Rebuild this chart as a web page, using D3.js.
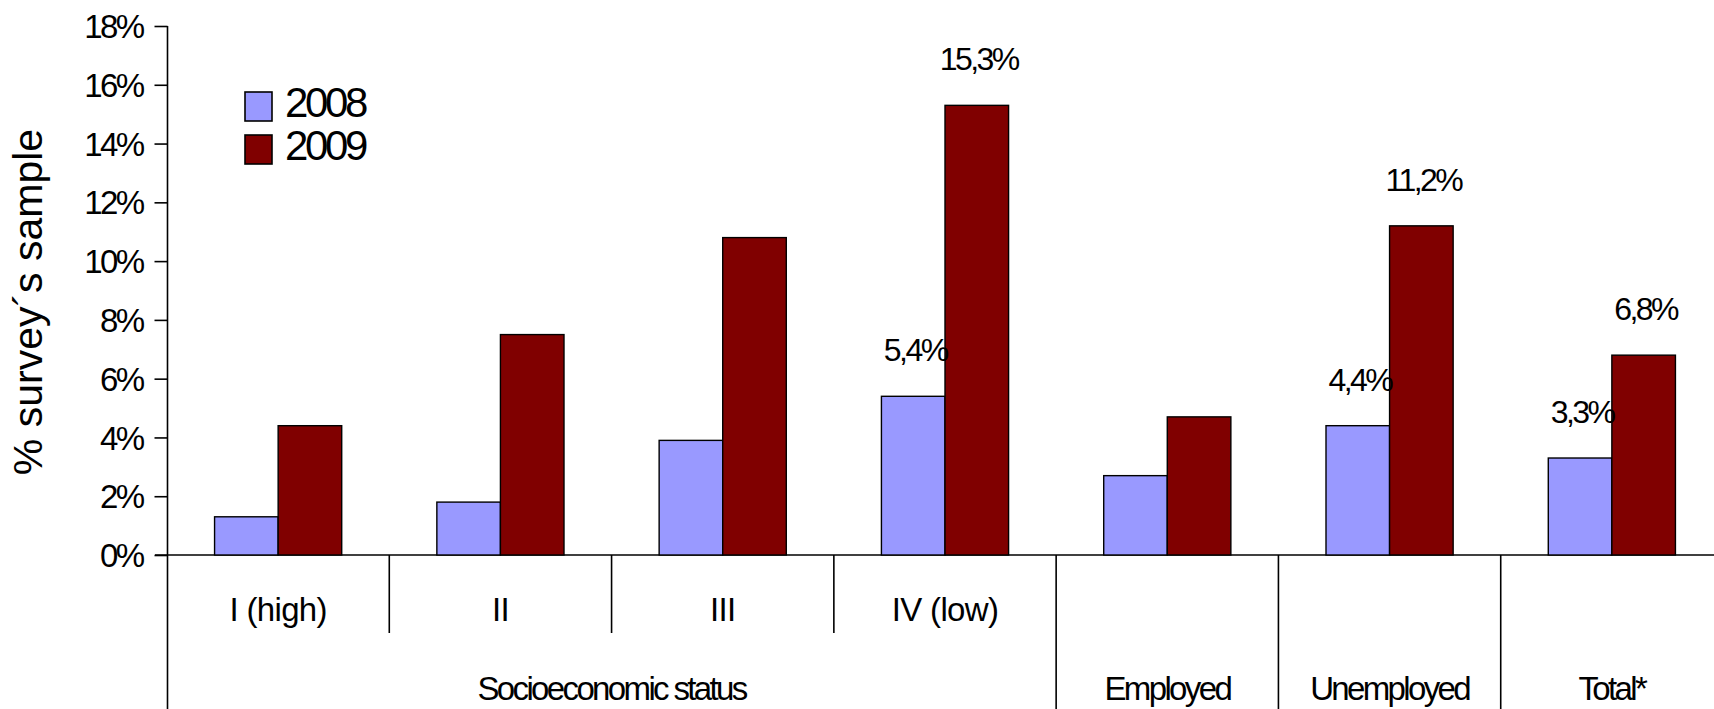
<!DOCTYPE html>
<html>
<head>
<meta charset="utf-8">
<script src="https://cdn.jsdelivr.net/npm/d3@7"></script>
<style>
  html, body { margin: 0; padding: 0; background: #fff; overflow: hidden; }
  svg { display: block; }
  text { font-family: "Liberation Sans", Arial, sans-serif; fill: #000; }
  .tight { letter-spacing: -0.08em; }
  .cat { letter-spacing: -0.02em; }
</style>
</head>
<body>
<svg id="chart" width="1714" height="709"></svg>
<script>
// Share of the survey sample, by group and year (%)
const categories = ["I (high)", "II", "III", "IV (low)", "Employed", "Unemployed", "Total*"];
const series = ["2008", "2009"];
const values2008 = [1.3, 1.8, 3.9, 5.4, 2.7, 4.4, 3.3];
const values2009 = [4.4, 7.5, 10.8, 15.3, 4.7, 11.2, 6.8];
const labelledCategories = ["IV (low)", "Unemployed", "Total*"];
const yTickValues = [0, 2, 4, 6, 8, 10, 12, 14, 16, 18];
const groupNames = ["Socioeconomic status", "Employed", "Unemployed", "Total*"];
const groupMembers = [["I (high)", "II", "III", "IV (low)"], ["Employed"], ["Unemployed"], ["Total*"]];
const yAxisTitle = "% survey´s sample";

const colors = { "2008": "#9999FF", "2009": "#800000" };
const valuesBySeries = { "2008": values2008, "2009": values2009 };

const rows = categories.map((c, i) => ({
  category: c,
  bars: series.map(s => ({ series: s, category: c, value: valuesBySeries[s][i] }))
}));

const svg = d3.select("#chart");
const W = 1714, H = 709;

const x0 = d3.scaleBand().domain(categories).range([167, 1723]).paddingInner(0).paddingOuter(0);
const bw = x0.bandwidth();
const groupFrac = 0.572;
const x1 = d3.scaleBand().domain(series)
  .range([(bw * (1 - groupFrac)) / 2, bw - (bw * (1 - groupFrac)) / 2]).padding(0);
const y = d3.scaleLinear().domain([0, 18]).range([555, 26]);

const fmtTick = d => d + "%";
const fmtValue = v => d3.format(".1f")(v).replace(".", ",") + "%";

// Y axis
const yAxis = d3.axisLeft(y).tickValues(yTickValues).tickFormat(fmtTick).tickSize(13).tickPadding(12);
const gy = svg.append("g").attr("transform", "translate(167.5,0)").call(yAxis);
gy.select(".domain").attr("stroke", "#000").attr("stroke-width", 1.6).attr("d", `M0,${y(18)}V${H}`);
gy.selectAll(".tick line").attr("stroke", "#000").attr("stroke-width", 1.6);
gy.selectAll(".tick text")
  .attr("class", "tight")
  .style("font-size", "33px")
  .style("font-family", "'Liberation Sans', Arial, sans-serif")
  .attr("fill", "#000")
  .attr("dy", "0.35em");

// Baseline
svg.append("line")
  .attr("x1", 155).attr("x2", W)
  .attr("y1", y(0)).attr("y2", y(0))
  .attr("stroke", "#000").attr("stroke-width", 1.6);

// Bars
const gCat = svg.append("g").selectAll("g").data(rows).join("g")
  .attr("transform", d => `translate(${x0(d.category)},0)`);

gCat.selectAll("rect").data(d => d.bars).join("rect")
  .attr("x", d => x1(d.series))
  .attr("width", x1.bandwidth())
  .attr("y", d => y(d.value))
  .attr("height", d => y(0) - y(d.value))
  .attr("fill", d => colors[d.series])
  .attr("stroke", "#000")
  .attr("stroke-width", 1.4);

// Value labels
gCat.filter(d => labelledCategories.includes(d.category))
  .selectAll("text.value").data(d => d.bars).join("text")
  .attr("class", "value tight")
  .attr("x", d => x1(d.series) + x1.bandwidth() / 2 + 2)
  .attr("y", d => y(d.value) - 35)
  .attr("text-anchor", "middle")
  .style("font-size", "32px")
  .attr("fill", "#111")
  .text(d => fmtValue(d.value));

// Category table below the axis
const table = svg.append("g");
groupMembers.forEach((members, gi) => {
  const start = x0(members[0]);
  const end = x0(members[members.length - 1]) + bw;
  // long dividers at group starts
  if (gi > 0) {
    table.append("line")
      .attr("x1", start).attr("x2", start)
      .attr("y1", y(0)).attr("y2", H)
      .attr("stroke", "#000").attr("stroke-width", 1.6);
  }
  // inner short dividers and first-row labels
  if (members.length > 1) {
    members.forEach((m, mi) => {
      if (mi > 0) {
        table.append("line")
          .attr("x1", x0(m)).attr("x2", x0(m))
          .attr("y1", y(0)).attr("y2", 633)
          .attr("stroke", "#000").attr("stroke-width", 1.6);
      }
      table.append("text")
        .attr("class", "cat")
        .attr("x", x0(m) + bw / 2)
        .attr("y", 621)
        .attr("text-anchor", "middle")
        .style("font-size", "33px")
        .text(m);
    });
  }
  table.append("text")
    .attr("class", "tight")
    .attr("x", (start + end) / 2)
    .attr("y", 700)
    .attr("text-anchor", "middle")
    .style("font-size", "33px")
    .text(groupNames[gi]);
});

// Y axis title
svg.append("text")
  .attr("transform", "translate(42,302) rotate(-90)")
  .attr("text-anchor", "middle")
  .style("font-size", "41px")
  .attr("fill", "#222")
  .text(yAxisTitle);

// Legend
const legend = svg.append("g").attr("transform", "translate(245,92)");
const li = legend.selectAll("g").data(series).join("g")
  .attr("transform", (d, i) => `translate(0,${i * 43})`);
li.append("rect")
  .attr("width", 27).attr("height", 29)
  .attr("fill", d => colors[d])
  .attr("stroke", "#000").attr("stroke-width", 1.6);
li.append("text")
  .attr("class", "tight")
  .attr("x", 40).attr("y", 25)
  .style("font-size", "42px")
  .text(d => d);
</script>
</body>
</html>
